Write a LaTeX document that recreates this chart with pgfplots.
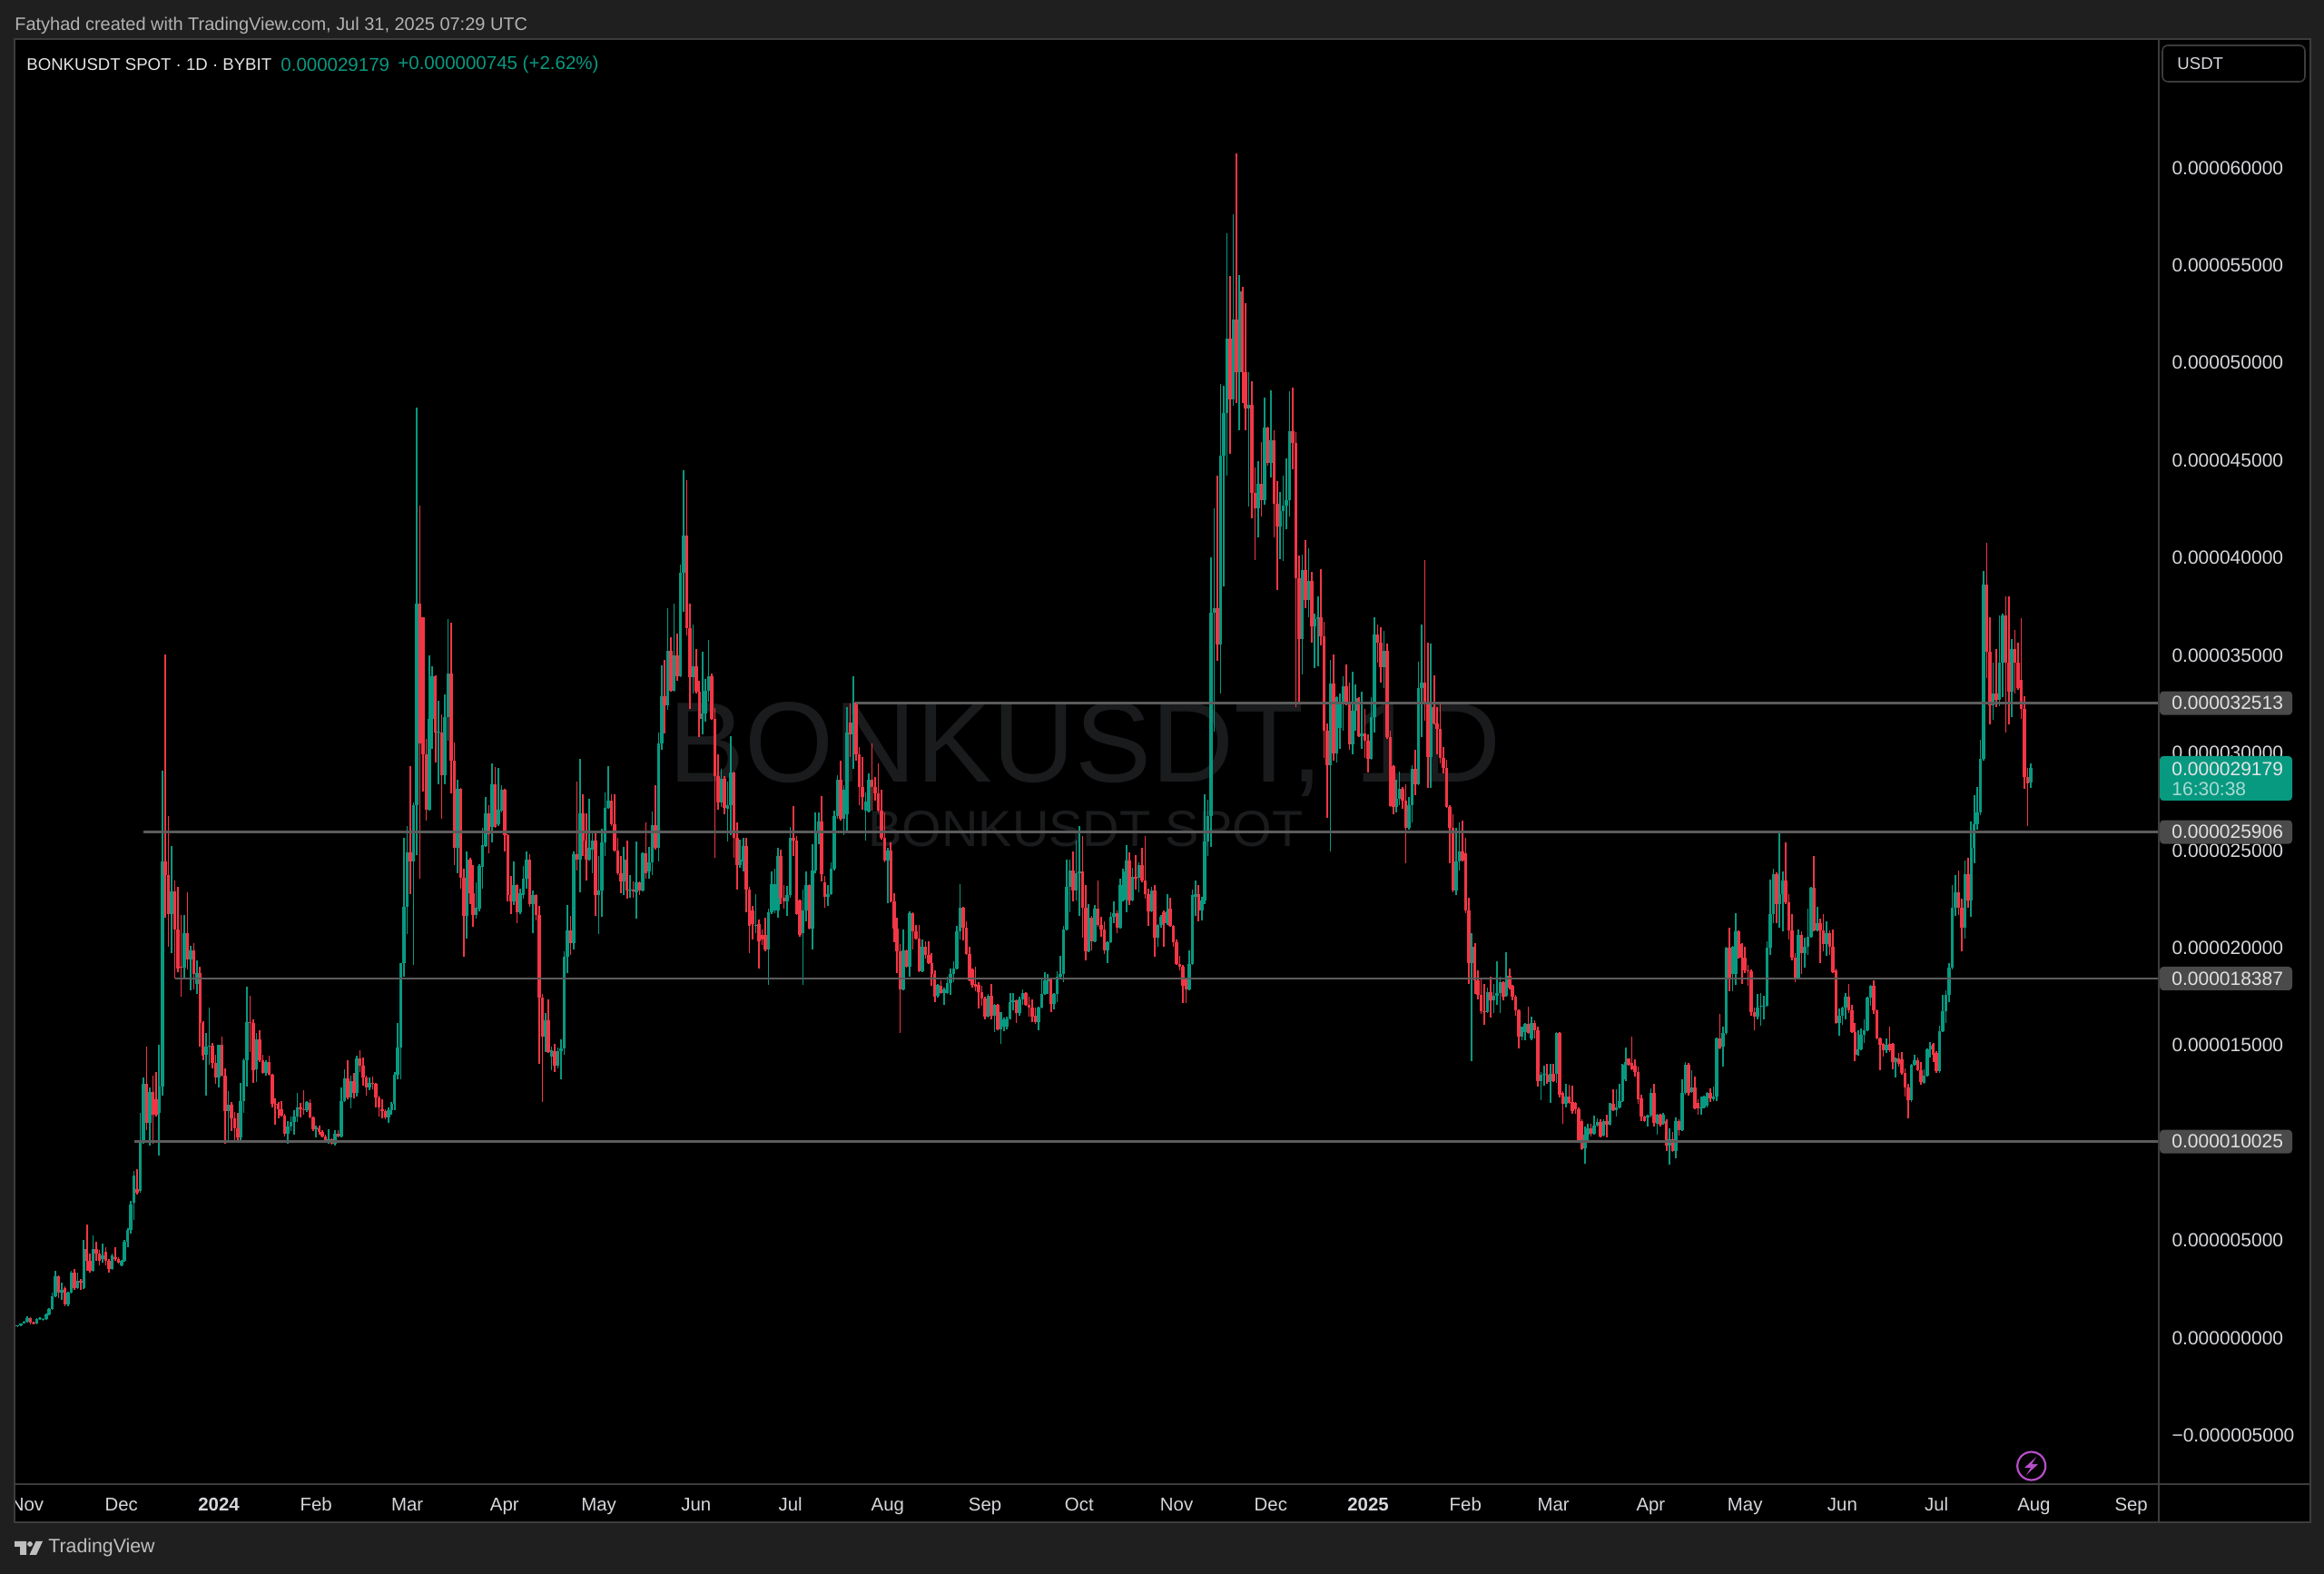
\documentclass[border=0pt]{standalone}
\usepackage{pgfplots}
\usepackage{pgfplotstable}
\usepackage{fontspec}
\setmainfont{Liberation Sans}
\pgfplotsset{compat=1.18}
\definecolor{bgc}{HTML}{1F1F1F}
\definecolor{upc}{HTML}{089981}
\definecolor{dnc}{HTML}{F23645}
\definecolor{lvl}{HTML}{5C5C5C}
\definecolor{sep}{HTML}{3C3C3C}
\definecolor{tagc}{HTML}{4A4A4A}
\definecolor{txt}{HTML}{D6D7DB}
\definecolor{wmk}{HTML}{1A1B1D}
\definecolor{pur}{HTML}{B64FC8}
% day (0 = 1 Jan 2024), open, high, low, close, prices in 1e-6 USDT
\pgfplotstableread{
d o h l c
-65 .60 .62 .52 .55
-64 .55 .62 .52 .60
-63 .60 .72 .58 .70
-62 .70 .85 .68 .80
-61 .80 1.05 .75 1.00
-60 1.00 1.02 .65 .75
-59 .75 .80 .65 .70
-58 .70 .98 .65 .95
-57 .95 1.02 .88 1.00
-56 .90 1.00 .85 .95
-55 .95 1.20 .90 1.15
-54 1.15 1.50 1.10 1.45
-53 1.45 2.30 1.40 2.10
-52 2.10 3.40 2.05 3.10
-51 3.10 3.15 2.00 2.30
-50 2.30 2.80 1.90 2.40
-49 2.50 2.60 1.60 1.70
-48 1.70 2.35 1.60 2.30
-47 2.30 3.40 2.25 3.30
-46 3.30 3.50 2.40 2.50
-45 2.50 3.30 2.45 2.90
-44 2.90 3.00 2.40 2.80
-43 2.50 5.00 2.45 4.50
-42 4.50 5.75 3.40 3.90
-41 3.90 4.30 3.30 3.40
-40 3.40 5.20 3.35 4.50
-39 4.50 4.90 3.90 4.30
-38 4.30 4.45 3.70 3.90
-37 4.00 4.80 3.80 4.20
-36 4.40 4.60 3.70 3.90
-35 3.90 4.00 3.30 3.50
-34 3.50 4.30 3.45 4.20
-33 4.10 4.60 3.90 4.00
-32 4.00 4.10 3.75 3.80
-31 3.70 3.95 3.65 3.90
-30 3.90 5.00 3.85 4.90
-29 4.90 5.60 4.60 5.50
-28 5.50 7.00 5.30 6.80
-27 6.90 8.50 6.00 8.30
-26 7.60 8.60 7.30 7.40
-25 7.50 11.50 7.40 10.10
-24 10.10 13.30 9.90 13.00
-23 13.00 14.90 10.60 11.00
-22 11.00 12.80 9.80 12.55
-21 12.55 13.40 9.90 11.40
-20 12.20 13.60 11.30 11.40
-19 11.50 15.00 9.30 12.85
-18 12.85 29.06 12.40 24.40
-17 24.40 35.00 21.50 23.70
-16 23.70 26.70 20.00 21.70
-15 21.70 25.20 19.70 22.85
-14 22.85 23.40 18.40 20.90
-13 20.90 23.10 18.70 18.90
-12 19.00 21.65 17.45 18.95
-11 18.95 21.65 18.40 20.70
-10 20.70 22.80 18.85 19.35
-9 19.35 20.05 17.80 19.85
-8 19.85 20.20 17.85 18.60
-7 18.10 19.30 17.60 18.65
-6 18.65 19.00 14.90 16.10
-5 16.10 16.20 14.20 14.45
-4 14.50 15.60 12.40 14.90
-3 14.90 16.90 13.95 14.95
-2 14.95 15.10 13.80 14.05
-1 14.05 14.50 13.00 13.30
0 13.30 15.00 12.80 15.00
1 15.00 15.40 13.35 13.40
2 13.40 13.80 9.90 11.60
3 11.60 12.60 10.10 11.90
4 11.90 12.05 10.55 11.20
5 11.20 11.55 10.10 10.70
6 10.70 11.50 10.05 10.25
7 10.25 13.05 9.95 12.10
8 12.10 14.30 11.50 14.20
9 14.20 17.95 12.85 16.15
10 16.15 17.50 14.60 16.10
11 16.10 16.30 13.05 13.70
12 13.75 15.60 13.10 15.25
13 15.25 15.75 14.10 14.20
14 14.20 14.50 13.50 13.55
15 13.55 14.20 13.40 14.10
16 14.10 14.45 13.40 13.45
17 13.45 13.50 11.80 11.95
18 11.95 12.25 10.90 11.90
19 11.95 12.05 11.20 11.70
20 11.70 12.10 11.30 11.35
21 11.35 11.45 10.30 10.45
22 10.45 11.10 9.90 10.80
23 10.80 11.30 10.55 11.05
24 11.05 11.65 10.40 11.30
25 11.30 12.50 11.05 11.80
26 11.80 12.00 11.25 11.70
27 11.70 12.65 11.40 11.65
28 11.65 12.10 11.55 12.05
29 12.00 12.20 11.20 11.25
30 11.25 11.30 10.55 10.65
31 10.65 10.85 10.25 10.75
32 10.70 10.85 10.40 10.50
33 10.50 10.60 10.25 10.30
34 10.30 10.40 10.00 10.10
35 10.10 10.65 9.90 10.15
36 10.15 10.20 9.85 9.90
37 9.90 10.60 9.80 10.45
38 10.45 10.60 10.25 10.30
39 10.30 12.80 10.25 12.10
40 12.10 13.75 12.05 13.25
41 13.25 14.20 12.20 12.30
42 12.30 13.40 11.75 13.15
43 13.15 13.55 12.25 12.50
44 12.50 14.45 12.35 14.30
45 14.30 14.70 13.60 13.90
46 13.90 14.35 12.90 13.30
47 13.30 13.40 12.40 12.80
48 12.80 13.30 12.65 13.05
49 13.05 13.35 12.70 13.00
50 13.00 13.05 11.80 12.30
51 12.30 12.40 11.30 11.80
52 11.70 12.20 11.20 11.60
53 11.60 11.70 11.15 11.25
54 11.25 11.80 11.00 11.65
55 11.65 12.05 11.40 11.95
56 11.95 13.60 11.65 13.45
57 13.45 16.10 13.20 14.85
58 14.85 19.20 13.20 19.20
59 19.20 25.60 18.50 22.05
60 22.05 26.20 20.65 24.87
61 24.87 29.30 22.70 24.40
62 24.40 27.40 19.10 27.30
63 27.30 47.67 24.70 37.60
64 37.60 42.65 23.50 30.45
65 36.90 36.90 28.00 29.90
66 29.90 30.70 26.50 27.05
67 27.05 34.95 27.00 31.70
68 31.70 34.40 30.15 33.90
69 33.90 33.95 29.45 31.00
70 31.00 32.65 28.35 31.05
71 31.00 31.95 26.60 28.80
72 28.80 32.95 28.35 31.80
73 31.80 36.80 30.60 34.05
74 34.05 36.65 27.90 29.55
75 29.55 30.50 24.20 25.10
76 25.10 28.60 23.80 28.10
77 28.10 28.15 23.00 23.55
78 23.55 24.00 19.50 21.60
79 21.60 24.90 20.45 24.50
80 24.50 24.60 22.20 22.75
81 22.75 24.20 21.05 21.65
82 21.65 23.30 21.45 22.00
83 21.95 24.25 21.85 24.15
84 24.10 26.10 23.00 25.25
85 25.20 27.70 25.15 26.85
86 26.85 27.30 24.80 25.80
87 26.15 29.40 25.35 28.35
88 28.35 29.25 26.10 26.15
89 26.30 29.20 26.20 27.05
90 27.00 28.30 26.90 28.05
91 28.05 28.10 24.90 25.75
92 25.75 25.80 22.35 22.65
93 22.65 23.65 21.70 22.35
94 22.35 24.40 22.17 23.20
95 23.20 23.25 21.25 21.80
96 21.80 23.00 21.70 22.75
97 22.65 24.15 22.50 23.50
98 23.50 24.90 23.00 24.50
99 24.50 24.75 22.05 22.20
100 22.20 22.90 20.70 22.65
101 22.65 22.70 21.35 21.65
102 21.65 22.10 14.00 17.40
103 17.40 17.60 12.05 15.40
104 15.40 16.60 14.60 16.25
105 16.25 17.30 14.55 14.60
106 14.40 14.90 13.70 14.70
107 14.65 15.05 13.60 13.90
108 13.90 14.85 13.80 14.65
109 14.65 15.25 13.20 14.80
110 14.80 19.80 14.50 19.50
111 19.50 22.15 18.65 20.85
112 20.85 21.60 19.60 20.20
113 20.20 24.90 19.90 24.75
114 24.75 28.50 23.95 24.50
115 24.50 29.65 22.80 26.85
116 26.85 27.85 24.65 25.45
117 25.45 26.85 23.40 24.50
118 24.50 27.60 24.45 25.10
119 25.00 25.95 23.80 25.45
120 25.45 25.95 21.60 22.65
121 22.65 24.65 20.65 22.90
122 22.90 26.05 21.55 25.35
123 25.35 27.95 24.65 27.15
124 27.15 29.30 27.10 27.50
125 27.50 27.85 26.20 26.30
126 26.30 27.85 24.90 24.95
127 24.95 25.60 23.70 23.80
128 23.80 24.65 22.75 23.35
129 23.35 25.15 22.65 24.50
130 24.50 25.45 22.50 22.90
131 22.90 23.70 22.55 22.95
132 22.95 23.35 22.55 22.85
133 22.80 25.40 21.45 23.30
134 23.30 23.35 22.65 22.90
135 22.90 24.85 22.85 24.80
136 24.80 26.40 23.50 23.80
137 23.90 25.15 23.50 24.35
138 24.35 26.95 23.70 26.25
139 26.25 28.30 25.00 25.10
140 25.10 31.00 24.40 30.45
141 30.45 34.45 30.10 32.85
142 32.85 34.75 30.95 32.40
143 32.40 37.40 32.15 35.20
144 35.20 35.90 33.10 33.15
145 33.15 37.60 33.10 34.95
146 34.95 36.10 33.65 33.90
147 33.90 39.60 33.85 39.20
148 39.20 44.45 37.20 41.10
149 41.10 43.95 36.00 36.35
150 36.35 37.60 32.20 33.85
151 33.85 36.55 33.00 34.40
152 34.40 35.30 33.00 33.10
153 33.10 33.65 30.75 31.70
154 31.70 35.15 30.90 32.00
155 32.00 33.75 31.55 33.15
156 33.15 35.75 32.60 33.90
157 33.90 34.05 31.65 31.70
158 31.70 32.25 24.60 28.75
159 28.75 29.90 27.05 27.40
160 27.40 29.15 27.20 28.65
161 28.65 28.75 26.80 27.15
162 27.10 28.50 25.40 27.30
163 27.30 30.80 25.75 28.95
164 28.95 29.00 24.60 25.60
165 25.60 26.40 22.95 24.20
166 24.20 25.50 24.05 24.50
167 24.40 25.60 23.90 25.20
168 25.20 25.60 21.80 22.95
169 22.95 23.10 19.70 21.10
170 21.90 22.10 20.40 21.20
171 21.10 22.70 20.70 21.15
172 21.20 21.40 18.90 20.30
173 20.60 20.90 20.10 20.40
174 20.60 21.50 19.80 19.90
175 19.90 21.95 18.05 21.80
176 21.80 23.90 21.70 23.25
177 21.90 24.00 21.75 23.25
178 21.90 25.10 21.50 24.65
179 24.65 25.00 22.20 22.55
180 22.55 23.20 21.95 22.35
181 22.35 23.15 21.60 22.65
182 22.65 26.15 22.55 25.60
183 25.60 27.25 24.65 25.45
184 25.45 25.70 21.65 21.70
185 22.40 22.45 20.55 20.60
186 20.70 22.95 18.05 21.90
187 21.90 23.90 21.30 23.20
188 23.20 23.25 20.90 20.95
189 20.95 25.30 19.90 23.95
190 23.95 26.90 23.80 25.90
191 25.90 26.90 25.30 26.45
192 26.45 27.75 23.35 23.75
193 23.30 23.65 22.00 22.60
194 22.60 23.20 22.10 22.70
195 22.70 24.35 22.65 24.00
196 24.00 27.00 23.95 26.70
197 26.70 28.80 26.60 28.60
198 28.60 29.55 26.50 26.60
199 26.60 28.30 25.75 28.05
200 26.80 32.30 25.85 31.00
201 31.50 32.50 29.75 30.90
202 30.90 33.90 29.15 31.50
203 32.55 32.60 29.55 29.90
204 29.90 30.25 27.30 28.20
205 28.20 29.75 27.05 27.70
206 27.00 27.95 25.45 27.45
207 26.95 28.90 26.90 28.60
208 28.60 30.45 27.00 28.20
209 28.20 28.70 27.50 27.90
210 27.90 29.40 26.90 27.00
211 27.00 28.05 25.50 25.60
212 25.60 26.90 24.35 24.45
213 24.45 25.10 22.25 24.95
214 24.95 25.35 22.30 22.35
215 22.35 22.75 20.25 20.95
216 20.95 21.50 18.65 19.80
217 19.80 20.15 15.60 17.85
218 17.85 20.90 17.80 19.85
219 19.85 19.90 18.95 19.00
220 19.00 21.85 18.50 21.75
221 21.75 21.80 19.90 20.80
222 20.80 21.15 20.40 20.45
223 20.45 21.15 18.70 18.75
224 18.75 20.40 18.70 20.00
225 20.00 20.30 19.40 19.60
226 19.60 20.30 19.15 19.20
227 19.20 19.70 18.00 18.60
228 18.60 18.80 17.20 17.45
229 17.50 18.10 17.40 18.05
230 18.00 18.30 17.60 17.65
231 17.65 17.90 17.05 17.85
232 17.65 18.50 17.60 18.15
233 18.15 18.90 17.55 18.60
234 18.60 19.25 18.20 18.90
235 18.90 21.10 18.85 20.80
236 20.80 23.25 20.40 22.00
237 22.00 22.05 20.35 21.00
238 21.00 21.30 19.60 19.65
239 19.65 20.00 18.25 18.30
240 18.85 18.90 17.90 18.05
241 18.10 19.00 17.75 17.95
242 18.05 18.20 16.85 17.67
243 17.67 18.00 17.00 17.35
244 17.35 17.45 16.30 16.45
245 16.45 17.60 16.40 17.50
246 17.50 18.10 16.30 16.50
247 16.50 17.10 15.65 17.05
248 17.05 17.10 15.75 15.80
249 15.80 16.65 15.05 16.65
250 15.90 16.40 15.70 16.30
251 15.90 16.45 15.80 16.35
252 16.35 17.65 16.30 17.20
253 17.20 17.65 16.75 17.25
254 17.25 17.30 16.10 16.60
255 16.60 17.45 16.50 17.30
256 17.30 17.85 17.05 17.65
257 17.65 17.70 17.00 17.05
258 17.05 17.45 16.45 16.90
259 16.90 17.30 16.15 16.45
260 16.50 16.90 16.05 16.15
261 16.15 16.95 15.75 16.90
262 16.90 18.35 16.85 17.60
263 17.60 18.70 17.55 18.30
264 18.25 18.60 17.60 18.35
265 18.35 18.45 16.65 17.10
266 17.10 17.65 16.80 17.60
267 17.60 18.75 17.20 18.50
268 18.50 19.55 18.45 18.60
269 18.60 21.10 18.20 20.90
270 20.90 24.50 20.85 23.10
271 23.10 24.50 21.80 23.95
272 23.95 24.90 22.35 22.90
273 22.90 25.45 22.40 23.80
274 23.80 26.20 21.60 23.90
275 23.90 25.70 20.50 22.00
276 22.00 23.20 19.30 19.80
277 19.80 22.20 19.75 21.50
278 21.50 21.60 19.85 20.30
279 20.30 22.15 20.25 21.95
280 21.95 23.40 21.05 21.15
281 21.15 21.55 20.55 20.90
282 20.90 21.30 19.65 19.85
283 19.85 20.30 19.20 20.25
284 20.25 21.80 20.20 21.55
285 21.55 22.35 21.25 21.75
286 21.75 21.90 20.70 21.00
287 21.00 23.50 20.95 23.20
288 22.40 24.00 22.35 23.90
289 22.45 25.25 21.80 24.45
290 24.45 24.85 22.15 22.40
291 22.40 24.05 22.35 23.60
292 23.60 24.70 22.95 23.50
293 23.55 24.35 22.80 24.20
294 24.20 25.10 23.30 23.40
295 23.40 25.70 22.50 22.70
296 22.70 23.00 21.10 21.85
297 21.85 23.10 21.80 22.90
298 22.90 23.20 19.50 20.50
299 20.50 21.20 20.00 21.15
300 21.15 21.65 21.00 21.55
301 21.80 21.90 20.00 21.25
302 21.25 22.70 21.15 21.85
303 21.95 22.55 21.05 21.10
304 21.10 21.15 20.00 20.25
305 20.25 20.40 19.10 19.15
306 19.15 19.55 18.80 19.00
307 19.00 19.10 17.15 18.00
308 18.40 18.45 17.15 17.85
309 17.85 19.85 17.80 19.15
310 19.15 22.97 19.10 22.65
311 22.60 23.40 21.60 22.70
312 22.70 23.20 21.30 21.90
313 21.90 22.60 21.35 22.40
314 22.40 27.85 22.20 25.40
315 25.40 27.55 24.65 26.70
316 26.70 40.00 25.15 37.15
317 37.15 42.50 31.05 37.40
318 37.40 44.20 34.70 35.50
319 35.50 48.90 33.00 45.20
320 45.20 48.80 38.50 47.40
321 47.40 56.60 44.20 51.20
322 51.20 54.40 45.30 48.10
323 48.10 57.60 47.75 52.20
324 52.20 60.70 47.90 49.50
325 49.50 54.45 46.50 53.65
326 53.65 53.85 47.90 49.50
327 49.50 53.00 46.50 47.60
328 47.60 49.50 42.60 47.80
329 47.80 49.00 42.00 43.30
330 43.30 44.60 39.85 42.50
331 42.50 44.90 41.00 43.75
332 43.75 45.90 42.10 42.90
333 42.90 48.20 42.70 46.65
334 46.65 46.70 44.70 44.85
335 44.85 48.55 44.10 46.00
336 46.00 46.50 41.00 42.75
337 42.75 43.90 38.30 41.55
338 41.55 43.35 39.90 42.35
339 42.35 44.20 39.80 42.65
340 42.65 45.05 41.45 42.90
341 42.90 48.50 42.10 46.45
342 46.45 48.70 44.50 45.85
343 45.85 46.40 32.30 38.90
344 38.90 40.10 32.50 35.80
345 35.80 40.15 34.00 39.35
346 39.35 40.85 37.40 37.80
347 37.80 40.45 36.90 38.80
348 38.80 39.25 35.60 36.45
349 36.45 37.10 34.30 36.80
350 36.80 38.00 34.40 36.90
351 36.90 39.40 35.45 35.95
352 35.95 36.70 29.70 31.10
353 31.10 31.45 26.65 29.35
354 29.35 34.75 24.90 33.50
355 33.50 35.00 29.55 29.95
356 29.95 32.85 29.45 32.80
357 31.25 33.00 30.15 32.50
358 32.50 33.90 31.10 33.40
359 33.40 34.50 32.40 32.45
360 32.45 33.55 30.10 30.40
361 30.40 34.10 29.90 32.10
362 32.10 33.45 31.10 32.75
363 32.75 32.80 30.75 30.80
364 30.80 33.10 30.15 30.95
365 30.95 32.20 29.70 30.60
366 30.60 30.90 28.95 29.65
367 29.65 32.80 29.60 31.80
368 31.80 36.90 31.00 36.05
369 36.05 36.55 34.60 35.60
370 35.60 36.40 33.55 34.35
371 34.35 36.20 33.30 35.20
372 35.20 35.55 30.70 30.75
373 30.75 31.10 27.20 27.25
374 29.30 29.35 26.80 27.20
375 27.20 28.60 26.90 27.60
376 27.60 29.00 27.30 28.10
377 28.10 28.20 27.10 27.50
378 27.50 28.35 24.30 26.10
379 26.10 27.70 26.00 27.30
380 27.30 29.35 26.40 29.15
381 29.15 30.10 27.80 28.35
382 28.35 34.65 28.30 33.30
383 33.30 36.55 30.75 33.55
384 33.55 39.85 31.60 32.45
385 32.45 35.60 28.15 29.75
386 29.75 35.55 28.15 32.30
387 32.30 33.95 31.40 31.45
388 31.45 32.30 29.90 31.20
389 31.20 32.60 29.40 29.70
390 29.70 30.25 28.90 29.20
391 29.20 29.60 27.15 27.20
392 27.20 27.30 24.30 26.10
393 26.10 26.80 22.80 22.90
394 22.90 26.10 22.65 24.40
395 24.40 26.40 23.95 24.90
396 24.90 26.50 24.40 24.45
397 24.80 25.60 21.75 21.90
398 21.90 22.55 18.10 19.20
399 19.20 20.70 14.15 20.00
400 20.00 20.20 17.60 18.30
401 18.30 18.80 17.30 17.55
402 17.55 18.40 16.55 16.70
403 16.70 18.10 16.00 16.65
404 16.65 17.90 16.60 17.70
405 17.70 18.50 16.40 17.25
406 17.25 18.10 16.60 17.50
407 17.50 19.25 17.05 17.65
408 17.65 18.50 16.60 18.20
409 18.20 18.25 17.25 17.45
410 17.50 19.75 17.45 18.53
411 18.53 18.89 17.83 17.91
412 18.02 18.07 17.29 17.45
413 17.45 17.55 16.47 16.75
414 16.75 16.80 14.80 15.43
415 15.43 15.94 15.20 15.90
416 15.65 16.10 15.23 16.05
417 16.05 16.95 15.55 15.60
418 15.30 16.45 15.23 16.10
419 16.10 16.25 15.30 15.75
420 15.75 15.90 12.85 13.15
421 13.15 13.60 12.15 13.45
422 13.45 13.90 12.90 13.50
423 13.45 14.00 13.00 13.10
424 13.10 14.00 12.00 13.50
425 13.50 14.00 13.10 13.15
426 13.50 15.62 13.05 15.60
427 15.60 15.65 12.30 12.45
428 12.53 12.60 10.95 11.97
429 11.97 13.00 11.80 12.35
430 12.35 12.95 11.95 12.00
431 12.05 12.90 11.45 11.60
432 12.00 12.05 11.45 11.70
433 11.70 11.80 9.95 10.10
434 11.10 11.15 9.60 9.65
435 9.70 10.80 8.90 10.40
436 10.40 10.95 10.00 10.70
437 10.70 10.95 10.30 10.45
438 10.45 11.35 10.40 10.85
439 10.85 11.20 10.80 11.05
440 11.05 11.15 10.25 10.30
441 10.35 11.15 10.30 11.10
442 11.10 11.40 10.25 10.90
443 10.90 12.00 10.85 12.00
444 11.95 12.70 11.60 11.65
445 11.65 12.70 11.30 11.80
446 11.80 13.00 11.75 12.10
447 12.10 14.00 12.05 13.95
448 13.20 14.85 13.15 14.10
449 14.27 14.30 13.90 13.96
450 14.05 15.40 13.70 13.73
451 13.90 14.25 13.35 13.60
452 13.60 13.85 11.95 12.20
453 12.25 12.45 11.10 11.30
454 11.30 11.35 11.05 11.10
455 11.25 11.40 10.80 11.35
456 11.35 12.75 11.25 12.50
457 12.50 13.00 10.80 11.00
458 10.95 11.45 10.40 11.40
459 11.40 11.45 10.80 10.90
460 10.95 11.50 10.90 11.40
461 11.10 11.15 9.55 9.80
462 9.80 10.70 8.85 10.15
463 10.15 10.50 9.50 9.55
464 9.55 11.25 9.15 11.10
465 11.10 11.15 10.35 10.60
466 10.60 13.20 10.55 12.50
467 12.50 14.10 12.45 13.95
468 13.95 14.05 12.40 12.50
469 12.55 13.70 12.50 12.80
470 12.80 13.35 11.70 11.75
471 12.00 12.20 11.40 11.75
472 11.75 12.35 11.40 11.80
473 11.80 12.40 11.75 12.35
474 11.85 12.55 11.80 12.50
475 12.50 12.75 12.05 12.25
476 12.20 12.85 12.10 12.35
477 12.35 15.35 12.10 15.30
478 15.30 16.55 14.75 14.80
479 14.90 15.90 13.85 15.60
480 15.60 20.00 15.50 19.95
481 19.95 21.00 17.75 18.45
482 18.60 20.05 17.75 20.00
483 18.60 21.75 18.05 20.80
484 20.80 20.85 19.40 19.45
485 20.15 20.20 18.10 19.45
486 19.45 20.00 18.65 18.80
487 18.80 19.10 18.00 18.75
488 18.75 18.85 16.50 16.65
489 16.65 16.90 15.75 16.45
490 16.45 17.60 16.30 16.90
491 16.95 17.65 15.95 17.00
492 16.95 17.50 16.30 17.00
493 17.00 20.30 16.95 19.95
494 19.95 23.45 19.60 21.70
495 21.70 24.00 21.25 23.75
496 23.75 23.85 21.25 22.20
497 22.20 25.85 21.00 22.70
498 22.70 23.90 20.80 23.40
499 23.40 25.35 22.20 22.30
500 22.30 22.70 20.40 20.85
501 20.85 21.70 19.30 19.45
502 19.45 19.70 18.20 18.40
503 18.40 20.90 18.35 20.60
504 20.60 20.80 18.60 19.70
505 19.70 20.50 18.95 20.00
506 20.00 21.95 19.60 20.55
507 20.55 23.10 20.50 23.05
508 23.05 24.65 20.80 20.85
509 20.85 22.05 20.80 21.25
510 21.25 21.45 19.20 20.85
511 20.85 21.70 19.80 20.15
512 20.15 21.30 19.55 20.70
513 20.70 20.85 19.60 20.00
514 20.00 20.90 18.65 18.70
515 18.80 18.90 16.05 16.10
516 16.10 16.85 15.45 16.50
517 16.50 16.95 16.00 16.90
518 16.90 17.65 16.30 17.45
519 17.45 18.10 16.60 16.75
520 16.75 17.05 15.60 15.65
521 15.65 16.10 14.15 14.50
522 14.50 15.75 14.45 14.75
523 14.75 15.85 14.70 15.50
524 15.50 16.30 15.10 15.75
525 15.75 17.45 15.70 17.40
526 17.40 18.05 17.00 18.00
527 18.00 18.30 16.55 16.75
528 16.75 16.80 15.25 15.30
529 15.30 15.35 13.70 15.00
530 15.05 15.10 14.40 14.70
531 14.70 15.30 14.55 15.00
532 15.05 15.90 14.60 14.70
533 15.05 15.10 13.75 14.10
534 14.10 14.35 13.30 14.30
535 14.30 14.55 13.85 14.00
536 14.25 14.60 13.45 13.55
537 13.55 13.80 12.35 12.80
538 12.80 13.00 11.20 12.15
539 12.15 14.00 12.05 13.95
540 13.95 14.50 13.90 14.20
541 14.20 14.35 13.65 13.70
542 13.70 14.10 12.95 13.10
543 13.05 13.75 13.00 13.40
544 13.40 14.80 13.35 14.75
545 14.75 15.15 14.35 14.95
546 15.05 15.10 14.10 14.50
547 14.55 14.65 13.55 13.65
548 13.65 15.95 13.55 15.70
549 15.70 17.55 15.65 16.70
550 16.70 17.80 16.10 17.55
551 17.55 19.20 17.20 18.95
552 18.95 23.20 18.85 22.00
553 22.00 23.70 21.60 22.80
554 22.80 23.95 21.65 22.00
555 22.00 22.50 19.80 21.00
556 21.00 24.45 20.45 23.75
557 23.75 24.60 22.00 22.40
558 22.40 26.45 21.55 25.10
559 25.10 27.80 24.30 26.30
560 26.30 28.20 26.00 26.90
561 26.90 30.65 26.75 29.65
562 29.65 39.30 29.55 38.60
563 38.60 40.75 33.80 35.15
564 35.15 36.90 31.40 32.40
565 32.40 34.60 31.65 33.00
566 33.00 35.30 32.30 32.70
567 32.70 37.00 32.35 34.60
568 34.60 37.10 32.80 37.00
569 37.00 38.00 31.00 34.60
570 34.60 38.00 31.40 33.10
571 33.10 35.80 31.80 35.30
572 35.30 36.25 33.00 34.60
573 34.60 35.60 33.20 33.30
574 33.70 36.85 31.70 32.20
575 32.20 32.85 28.10 28.70
576 28.70 29.20 26.20 28.40
577 28.434 29.40 28.15 29.179
}\candles
\begin{document}
\begin{tikzpicture}
\useasboundingbox (0,0) rectangle (1280pt,867pt);
\fill[bgc] (0,0) rectangle (1280pt,867pt);
% pixel coordinates of the reference from here on
\begin{scope}[x=0.5pt,y=-0.5pt,yshift=867pt]
\fill[black] (16,43) rectangle (2545,1677);
\node[wmk,anchor=base,inner sep=0pt,font=\fontsize{63}{70}\selectfont] at (1195,862) {BONKUSDT, 1D};
\node[wmk,anchor=base,inner sep=0pt,font=\fontsize{28}{32}\selectfont] at (1196,933) {BONKUSDT SPOT};
\end{scope}
\begin{axis}[
    at={(8pt,49.5pt)}, anchor=south west,
    scale only axis,
    width=1181pt, height=796pt,
    xmin=-65.05, xmax=617.8,
    ymin=-7.54, ymax=66.57,
    axis line style={draw=none},
    tick style={draw=none},
    major tick length=0pt,
    ytick={-5,0,5,10,15,20,25,30,35,40,45,50,55,60},
    yticklabels={−0.000005000,0.000000000,0.000005000,0.000010000,0.000015000,0.000020000,0.000025000,0.000030000,0.000035000,0.000040000,0.000045000,0.000050000,0.000055000,0.000060000},
    yticklabel pos=right,
    yticklabel style={anchor=west,xshift=7pt,yshift=-0.4pt,inner sep=0pt,font=\fontsize{10.5}{12}\selectfont,text=txt},
    xtick={-61,-31,0,31,60,91,121,152,182,213,244,274,305,335,366,397,425,456,486,517,547,578,609},
    xticklabels={Nov,Dec,\textbf{2024},Feb,Mar,Apr,May,Jun,Jul,Aug,Sep,Oct,Nov,Dec,\textbf{2025},Feb,Mar,Apr,May,Jun,Jul,Aug,Sep},
    xticklabel style={anchor=base,yshift=-15pt,inner sep=0pt,font=\fontsize{10.2}{12}\selectfont,text=txt},
    scaled ticks=false,
    wick/.style={draw=none,forget plot,error bars/y dir=plus,error bars/y explicit,error bars/error mark=none,
        error bars/error bar style={line width=0.8pt,color=#1}},
    body/.style={draw=none,forget plot,error bars/y dir=plus,error bars/y explicit,error bars/error mark=none,
        error bars/error bar style={line width=1.75pt,color=#1}},
    hlevel/.style={lvl,line width=1.4pt,forget plot},
]
% wicks
\addplot[wick=upc,restrict expr to domain={\thisrow{c}-\thisrow{o}}{0:1000}]
    table[x=d,y=l,y error plus expr=\thisrow{h}-\thisrow{l}] {\candles};
\addplot[wick=dnc,restrict expr to domain={\thisrow{o}-\thisrow{c}}{0.0001:1000}]
    table[x=d,y=l,y error plus expr=\thisrow{h}-\thisrow{l}] {\candles};
% bodies
\addplot[body=upc,restrict expr to domain={\thisrow{c}-\thisrow{o}}{0:1000}]
    table[x=d,y=o,y error plus expr=\thisrow{c}-\thisrow{o}] {\candles};
\addplot[body=dnc,restrict expr to domain={\thisrow{o}-\thisrow{c}}{0.0001:1000}]
    table[x=d,y=c,y error plus expr=\thisrow{o}-\thisrow{c}] {\candles};
% horizontal levels
\addplot[hlevel] coordinates {(203,32.513) (617.8,32.513)};
\addplot[hlevel] coordinates {(-24,25.906) (617.8,25.906)};
\addplot[hlevel] coordinates {(-14,18.387) (617.8,18.387)};
\addplot[hlevel] coordinates {(-27,10.025) (617.8,10.025)};
\end{axis}
\begin{scope}[x=0.5pt,y=-0.5pt,yshift=867pt]
% cover for the clipped Nov label
\fill[bgc] (0,1636) rectangle (15.5,1680);
\draw[sep,line width=0.8pt] (16,43) rectangle (2545,1677);
\draw[sep,line width=1pt] (2378,43) -- (2378,1677);
\draw[sep,line width=1pt] (16,1635) -- (2545,1635);
% header text
\node[anchor=west,inner sep=0pt,text=black!30!white,font=\fontsize{9.98}{12}\selectfont] at (16,28) {Fatyhad created with TradingView.com, Jul 31, 2025 07:29 UTC};
\node[anchor=west,inner sep=0pt,text=white!90!black,font=\fontsize{9.3}{12}\selectfont] at (29,71) {BONKUSDT SPOT · 1D · BYBIT};
\node[anchor=west,inner sep=0pt,text=upc,font=\fontsize{10.25}{12}\selectfont] at (309,71) {0.000029179};
\node[anchor=west,inner sep=0pt,text=upc,font=\fontsize{10.25}{12}\selectfont] at (438,71) {+0.000000745 (+2.62\%)};
% USDT box
\draw[sep,line width=0.8pt,rounded corners=3pt] (2382,50) rectangle (2539,90);
\node[anchor=west,inner sep=0pt,text=txt,font=\fontsize{9.3}{12}\selectfont] at (2398,70) {USDT};
% price tags
\foreach \yy/\lab in {774.6/0.000032513,916.6/0.000025906,1078/0.000018387,1257.7/0.000010025}{
    \fill[tagc,rounded corners=2pt] (2379,\yy-13) rectangle (2525,\yy+13);
    \node[anchor=west,inner sep=0pt,text=white!88!black,font=\fontsize{10.5}{12}\selectfont] at (2392,\yy) {\lab};
}
\fill[upc,rounded corners=2pt] (2379,833) rectangle (2525,882);
\node[anchor=west,inner sep=0pt,text=white!90!black,font=\fontsize{10.5}{12}\selectfont] at (2392,847) {0.000029179};
\node[anchor=west,inner sep=0pt,text=white!65!upc,font=\fontsize{10.5}{12}\selectfont] at (2392,869) {16:30:38};
% lightning icon
\draw[pur,line width=1.1pt] (2237.7,1615) circle (15.5);
\fill[pur] (2243,1605) -- (2230,1617) -- (2237,1617) -- (2232,1625) -- (2245,1613) -- (2238,1613) -- cycle;
% TradingView logo
\fill[black!25!white] (16,1698) -- (29,1698) -- (29,1713) -- (22,1713) -- (22,1704) -- (16,1704) -- cycle;
\fill[black!25!white] (33,1701) circle (2.9);
\fill[black!25!white] (39.5,1698) -- (47,1698) -- (40,1713) -- (32.5,1713) -- cycle;
\node[anchor=west,inner sep=0pt,text=black!25!white,font=\fontsize{10.65}{12}\selectfont] at (53,1705) {TradingView};
\end{scope}
\end{tikzpicture}
\end{document}
